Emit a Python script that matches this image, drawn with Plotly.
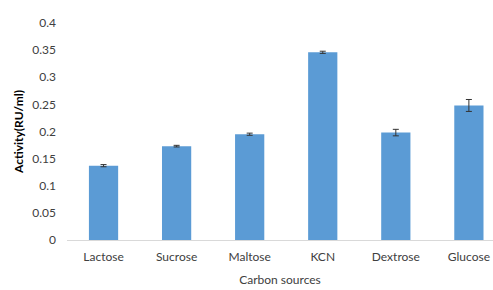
import plotly.graph_objects as go

categories = ["Lactose", "Sucrose", "Maltose", "KCN", "Dextrose", "Glucose"]
activity = [0.137, 0.173, 0.195, 0.346, 0.198, 0.248]
errors = [0.002, 0.0015, 0.002, 0.002, 0.006, 0.011]
y_ticks = [0, 0.05, 0.1, 0.15, 0.2, 0.25, 0.3, 0.35, 0.4]
y_tick_text = ["0", "0.05", "0.1", "0.15", "0.2", "0.25", "0.3", "0.35", "0.4"]

fig = go.Figure(go.Bar(
    x=categories, y=activity,
    marker=dict(color="#5b9bd5", line=dict(width=0)),
    error_y=dict(type="data", array=errors, color="#333333", thickness=1, width=3),
))

fig.update_layout(
    width=493, height=290,
    margin=dict(l=67, r=0, t=23, b=50, autoexpand=False),
    paper_bgcolor="white", plot_bgcolor="white",
    bargap=0.6,
    showlegend=False,
    font=dict(family="Lato", size=12, color="#404040"),
)
fig.update_xaxes(
    range=[-0.5, 5.33], automargin=False,
    showline=True, linecolor="#d9d9d9", linewidth=1,
    ticks="", showgrid=False, ticklabelstandoff=6,
    tickfont=dict(size=12, color="#404040"),
    title=dict(text="Carbon sources", font=dict(size=12, color="#404040"), standoff=12),
)
fig.update_yaxes(
    range=[0, 0.4], automargin=False,
    tickvals=y_ticks, ticktext=y_tick_text,
    showline=False, showgrid=False, zeroline=False, ticks="",
    ticklabelstandoff=10,
    tickfont=dict(size=12, color="#404040"),
    title=dict(text="<b>Activity(RU/ml)</b>", font=dict(size=12, color="#000000"), standoff=6),
)

fig.write_html(
    "out.html",
    config={"displayModeBar": False},
    post_script="document.body.style.margin='0';document.body.style.overflow='hidden';",
)
